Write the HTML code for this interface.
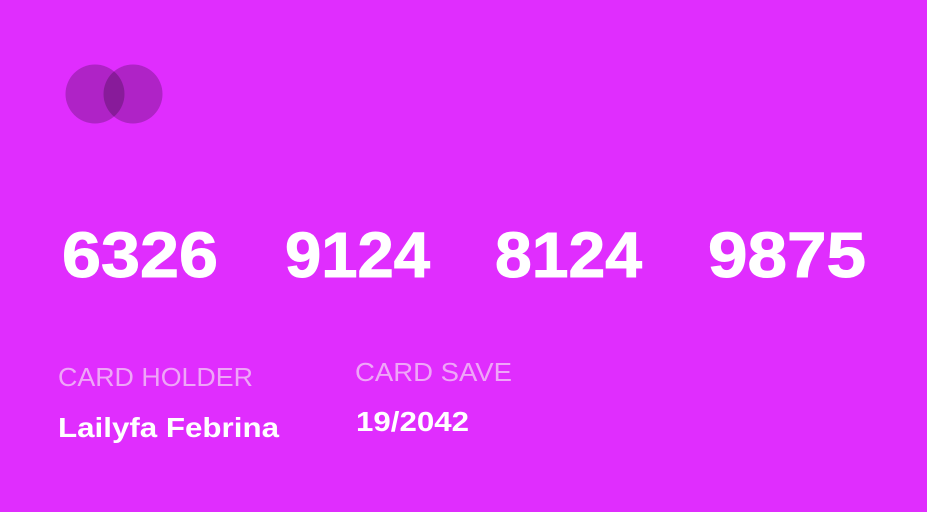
<!DOCTYPE html>
<html><head><meta charset="utf-8"><style>
html,body{margin:0;padding:0;background:#E02DFE;}
svg{display:block}
</style></head><body>
<svg width="927" height="512" viewBox="0 0 927 512" xmlns="http://www.w3.org/2000/svg">
<rect x="0" y="0" width="927" height="512" fill="#E02DFE"/>
<g>
<circle cx="95" cy="94" r="29.5" fill="#000" fill-opacity="0.22"/>
<circle cx="133" cy="94" r="29.5" fill="#000" fill-opacity="0.22"/>
</g>
<g font-family="Liberation Sans, sans-serif" font-weight="bold" font-size="64" fill="#fff" stroke="#fff" stroke-width="1">
<text x="62" y="277" textLength="156" lengthAdjust="spacingAndGlyphs">6326</text>
<text x="285" y="277" textLength="145" lengthAdjust="spacingAndGlyphs">9124</text>
<text x="495" y="277" textLength="147" lengthAdjust="spacingAndGlyphs">8124</text>
<text x="708" y="277" textLength="158" lengthAdjust="spacingAndGlyphs">9875</text>
</g>
<g font-family="Liberation Sans, sans-serif" font-size="26" fill="#EFA6F8">
<text x="58" y="386" textLength="195" lengthAdjust="spacingAndGlyphs">CARD HOLDER</text>
<text x="355" y="381" textLength="157" lengthAdjust="spacingAndGlyphs">CARD SAVE</text>
</g>
<g font-family="Liberation Sans, sans-serif" font-weight="bold" font-size="28" fill="#fff">
<text x="58" y="437" textLength="221" lengthAdjust="spacingAndGlyphs">Lailyfa Febrina</text>
<text x="356" y="431" textLength="113" lengthAdjust="spacingAndGlyphs">19/2042</text>
</g>
</svg>
</body></html>
